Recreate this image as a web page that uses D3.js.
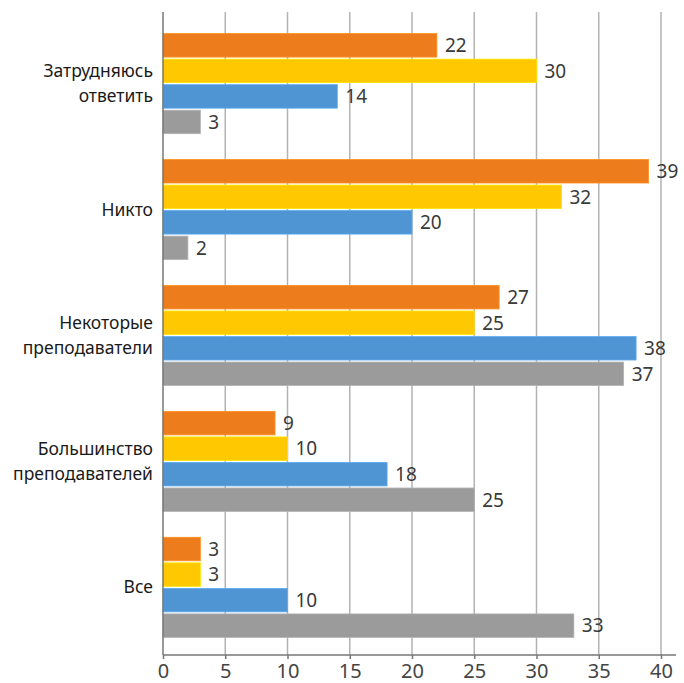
<!DOCTYPE html>
<html><head><meta charset="utf-8">
<script src="https://cdn.jsdelivr.net/npm/d3@7/dist/d3.min.js"></script>
<style>body{margin:0;background:#fff}</style>
</head><body><svg id="c" width="684" height="683"></svg>
<script>
const categories = [["Затрудняюсь","ответить"],["Никто"],["Некоторые","преподаватели"],["Большинство","преподавателей"],["Все"]];
const seriesNames = ["s1","s2","s3","s4"];
const s1 = [22, 39, 27, 9, 3];
const s2 = [30, 32, 25, 10, 3];
const s3 = [14, 20, 38, 18, 10];
const s4 = [3, 2, 37, 25, 33];
const seriesValues = [s1, s2, s3, s4];
const colors = ["#ED7D1C", "#FFC800", "#4F95D3", "#9B9B9B"];
const xTicks = [0,5,10,15,20,25,30,35,40];

(function(){
const svg = d3.select("#c");
const mLeft = 163, mRight = 661, mTop = 12, mBottom = 655;
const x = d3.scaleLinear().domain([0,40]).range([mLeft, mRight]);
const y = d3.scaleBand().domain(d3.range(categories.length)).range([21, 650]).paddingInner(0.205).paddingOuter(0.1);
const ys = d3.scaleBand().domain(seriesNames).range([0, y.bandwidth()]).paddingInner(0.08);

svg.append("g").selectAll("line").data(xTicks.slice(1)).join("line")
  .attr("x1", d=>x(d)).attr("x2", d=>x(d)).attr("y1", mTop).attr("y2", mBottom)
  .attr("stroke", "#b3b3b3").attr("stroke-width", 1.5);

const g = svg.append("g");
categories.forEach((c, ci) => {
  seriesValues.forEach((vals, si) => {
    const yy = y(ci) + ys(seriesNames[si]);
    g.append("rect").attr("x", x(0)).attr("y", yy)
      .attr("width", x(vals[ci]) - x(0)).attr("height", ys.bandwidth())
      .attr("fill", colors[si]).attr("stroke", d3.color(colors[si]).brighter(0.4)).attr("stroke-width", 0.8);
    g.append("text").attr("x", x(vals[ci]) + 8).attr("y", yy + ys.bandwidth()/2)
      .attr("dy", "0.36em").attr("font-family", "Noto Sans, sans-serif").attr("font-size", 19)
      .attr("fill", "#3a3a3a").text(vals[ci]);
  });
  const cy = y(ci) + y.bandwidth()/2;
  c.forEach((ln, li) => {
    svg.append("text").attr("x", 153).attr("y", cy + (li - (c.length-1)/2) * 25)
      .attr("dy", "0.35em").attr("text-anchor", "end")
      .attr("font-family", "Noto Sans, sans-serif").attr("font-size", 17.5).attr("fill", "#1a1a1a").text(ln);
  });
});

svg.append("line").attr("x1", mLeft).attr("x2", mLeft).attr("y1", mTop).attr("y2", mBottom)
  .attr("stroke", "#777").attr("stroke-width", 1.5);

const ax = svg.append("g").attr("transform", `translate(0,${mBottom})`)
  .call(d3.axisBottom(x).tickValues(xTicks).tickSize(4).tickSizeOuter(0));
ax.select(".domain").attr("stroke", "#777").attr("stroke-width", 1.5).attr("d", `M${mLeft},0H${mRight+15}`);
ax.selectAll(".tick line").attr("stroke", "#777").attr("stroke-width", 1.5);
ax.selectAll(".tick text").attr("font-family", "Noto Sans, sans-serif").attr("font-size", 20)
  .attr("fill", "#444").attr("y", 9);
})();
</script></body></html>
